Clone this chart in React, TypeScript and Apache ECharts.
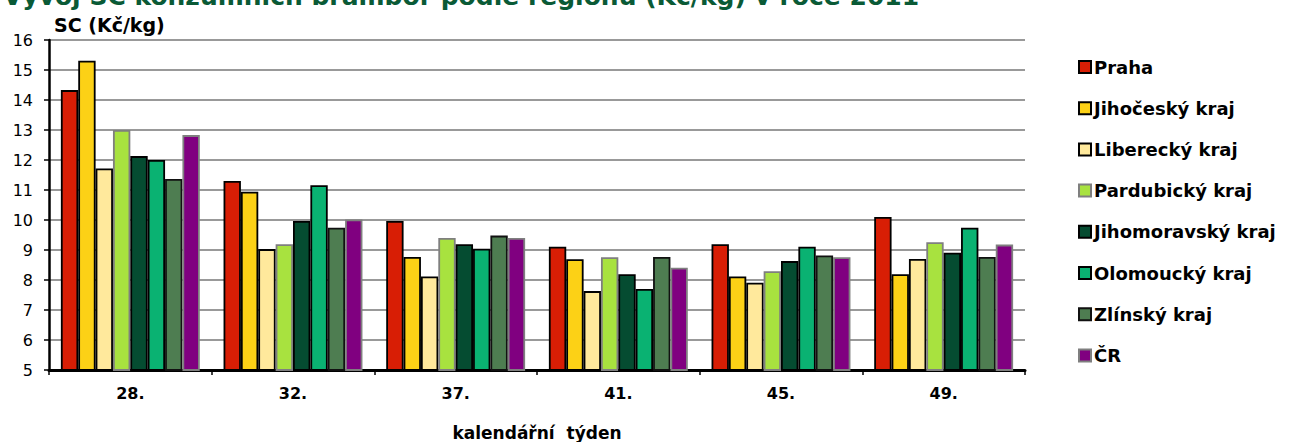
import React, { useEffect, useRef } from "react";
import * as echarts from "echarts";

const weeks = ["28.", "32.", "37.", "41.", "45.", "49."];
const regions = [
  "Praha",
  "Jihočeský kraj",
  "Liberecký kraj",
  "Pardubický kraj",
  "Jihomoravský kraj",
  "Olomoucký kraj",
  "Zlínský kraj",
  "ČR",
];
const praha = [14.33, 11.3, 9.97, 9.11, 9.19, 10.1];
const jihocesky = [15.31, 10.94, 8.77, 8.69, 8.12, 8.19];
const liberecky = [11.72, 9.03, 8.12, 7.63, 7.91, 8.7];
const pardubicky = [13.0, 9.19, 9.4, 8.76, 8.29, 9.26];
const jihomoravsky = [12.13, 9.97, 9.19, 8.19, 8.63, 8.91];
const olomoucky = [12.0, 11.16, 9.04, 7.7, 9.11, 9.74];
const zlinsky = [11.37, 9.74, 9.48, 8.77, 8.82, 8.77];
const cr = [12.83, 10.02, 9.4, 8.41, 8.76, 9.18];
const seriesValues = [praha, jihocesky, liberecky, pardubicky, jihomoravsky, olomoucky, zlinsky, cr];
const colors = ["#D81E05", "#FCD116", "#FFE99C", "#A8E23F", "#054C31", "#0AB272", "#4E7D51", "#800080"];
const borders = ["#000", "#000", "#000", "#7f7f7f", "#000", "#000", "#111", "#7f7f7f"];
const yTicks = { min: 5, max: 16, interval: 1 };

const FONT = "DejaVu Sans";

export default function App() {
  const ref = useRef<HTMLDivElement>(null);
  useEffect(() => {
    if (!ref.current) return;
    const chart = echarts.init(ref.current, null, { renderer: "svg" });
    chart.setOption({
      animation: false,
      backgroundColor: "#fff",
      textStyle: { fontFamily: FONT },
      grid: { left: 49, right: 265, top: 40, bottom: 72, containLabel: false, outerBoundsMode: "none" },
      legend: {
        orient: "vertical",
        left: 1078,
        top: 58,
        padding: 0,
        itemWidth: 12,
        itemHeight: 12,
        itemGap: 23.2,
        icon: "rect",
        data: regions,
        textStyle: { fontFamily: FONT, fontWeight: "bold", fontSize: 18, color: "#000", lineHeight: 18, padding: [0, 0, 0, -2] },
      },
      graphic: [
        {
          type: "text",
          left: 3,
          top: -16,
          style: {
            text: "Vývoj SC konzumních brambor podle regionů (Kč/kg) v roce 2011",
            font: `bold 25px "${FONT}"`,
            fill: "#0A5A36",
          },
        },
        {
          type: "text",
          left: 54,
          top: 15,
          style: { text: "SC (Kč/kg)", font: `bold 19px "${FONT}"`, fill: "#000" },
        },
      ],
      xAxis: {
        type: "category",
        data: weeks,
        axisLine: { lineStyle: { color: "#000", width: 3 } },
        axisTick: { show: true, length: 5, lineStyle: { color: "#000", width: 1.5 } },
        axisLabel: { fontFamily: FONT, fontWeight: "bold", fontSize: 16, color: "#000", margin: 15 },
        name: "kalendářní  týden",
        nameLocation: "middle",
        nameGap: 54,
        nameTextStyle: { fontFamily: FONT, fontWeight: "bold", fontSize: 17, color: "#000" },
      },
      yAxis: {
        type: "value",
        min: yTicks.min,
        max: yTicks.max,
        interval: yTicks.interval,
        axisLine: { show: true, lineStyle: { color: "#000", width: 2.5 } },
        axisTick: { show: true, length: 5, lineStyle: { color: "#000", width: 1.5 } },
        axisLabel: { fontFamily: FONT, fontSize: 16, color: "#000", margin: 16 },
        splitLine: { lineStyle: { color: "#999", width: 2 } },
      },
      series: regions.map((name, i) => ({
        name,
        type: "bar",
        data: seriesValues[i],
        barGap: "0%",
        barCategoryGap: "14.6%",
        itemStyle: { color: colors[i], borderColor: borders[i], borderWidth: 1.8 },
      })),
    });
    return () => chart.dispose();
  }, []);
  return <div ref={ref} style={{ position: "absolute", left: 0, top: 0, width: 1290, height: 442 }} />;
}
